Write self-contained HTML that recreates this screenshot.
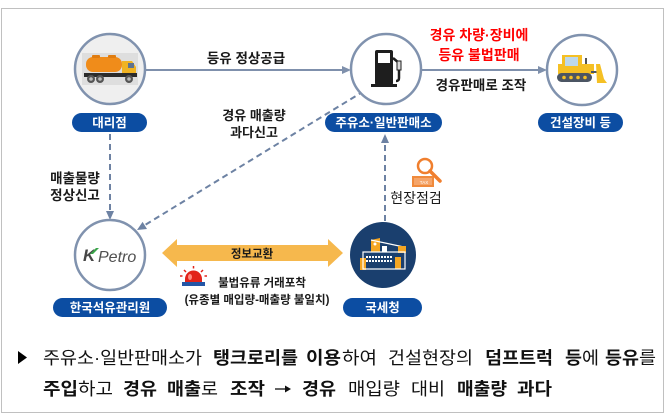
<!DOCTYPE html>
<html><head><meta charset="utf-8"><style>
html,body{margin:0;padding:0;background:#fff;}
svg{display:block;}
text{font-family:"Liberation Sans","Noto Sans CJK KR",sans-serif;}
</style></head><body>
<svg width="670" height="419" viewBox="0 0 670 419" xmlns="http://www.w3.org/2000/svg">
<rect x="1.5" y="8.5" width="662" height="404" fill="#fff" stroke="#808080" stroke-width="1" stroke-dasharray="1,1"/>

<!-- connectors -->
<line x1="146" y1="70" x2="344" y2="70" stroke="#7f90ac" stroke-width="2"/>
<polygon points="351,70 342,66 342,74" fill="#7f90ac"/>
<line x1="421" y1="70" x2="540" y2="70" stroke="#7f90ac" stroke-width="2"/>
<polygon points="547,70 538,66 538,74" fill="#7f90ac"/>

<line x1="110" y1="134" x2="110" y2="212" stroke="#6d82a3" stroke-width="2" stroke-dasharray="6,4"/>
<polygon points="110,220 106,211 114,211" fill="#6d82a3"/>

<line x1="385" y1="221" x2="385" y2="142" stroke="#6d82a3" stroke-width="2" stroke-dasharray="6,4"/>
<polygon points="385,134 381,143 389,143" fill="#6d82a3"/>

<line x1="364" y1="91" x2="145" y2="225" stroke="#6d82a3" stroke-width="2" stroke-dasharray="6,4"/>
<polygon points="137,230 147,229 142.6,221.9" fill="#6d82a3"/>

<!-- circles -->
<circle cx="110" cy="69" r="35" fill="#efefef" stroke="#8092ae" stroke-width="2.5"/>
<circle cx="386" cy="69" r="35" fill="#fff" stroke="#8092ae" stroke-width="2.5"/>
<circle cx="582" cy="70" r="35" fill="#fff" stroke="#8092ae" stroke-width="2.5"/>
<circle cx="110" cy="255" r="35" fill="#fff" stroke="#8092ae" stroke-width="2.5"/>
<circle cx="383" cy="255" r="33" fill="#1a3f6e"/>

<!-- truck -->
<rect x="82" y="53" width="56" height="32" fill="#dedede"/>
<rect x="86" y="57" width="36" height="15" rx="7" fill="#f08c1a"/>
<rect x="92" y="55" width="8" height="3" rx="1" fill="#e07c10"/>
<rect x="108" y="55" width="8" height="3" rx="1" fill="#e07c10"/>
<path d="M122,77 L122,61 L132,61 L136,67 L136,77 Z" fill="#f0b323"/>
<rect x="128" y="63" width="6" height="5" fill="#5f7390"/>
<rect x="84" y="73" width="53" height="4" fill="#2b2b2b"/>
<circle cx="91" cy="79" r="4" fill="#555"/><circle cx="91" cy="79" r="1.8" fill="#bbb"/>
<circle cx="100" cy="79" r="4" fill="#555"/><circle cx="100" cy="79" r="1.8" fill="#bbb"/>
<circle cx="129" cy="79" r="4" fill="#555"/><circle cx="129" cy="79" r="1.8" fill="#bbb"/>

<!-- fuel pump -->
<rect x="375" y="50" width="18" height="35" rx="2" fill="#1e1e1e"/>
<rect x="378" y="53" width="12" height="10" fill="#fff"/>
<rect x="371" y="84" width="26" height="3" fill="#1e1e1e"/>
<path d="M393,58 L399,63 L399,78 Q399,81 396,81" stroke="#1e1e1e" stroke-width="2.5" fill="none"/>
<rect x="397" y="61" width="4" height="9" fill="#dcdcdc" stroke="#1e1e1e" stroke-width="1"/>

<!-- bulldozer -->
<rect x="558" y="64" width="36" height="10" fill="#f5c024"/>
<rect x="562" y="55" width="20" height="12" fill="#f5c024"/>
<rect x="565" y="57" width="13" height="9" fill="#bcd8ec"/>
<rect x="585" y="58" width="2" height="6" fill="#555"/>
<rect x="557" y="73" width="35" height="9" rx="4.5" fill="#4b5563"/>
<circle cx="564" cy="77.5" r="1.8" fill="#f5c024"/>
<circle cx="571" cy="77.5" r="1.8" fill="#f5c024"/>
<circle cx="578" cy="77.5" r="1.8" fill="#f5c024"/>
<circle cx="585" cy="77.5" r="1.8" fill="#f5c024"/>
<line x1="591" y1="72" x2="598" y2="72" stroke="#4b5563" stroke-width="2"/>
<polygon points="596,64 600,64 604,79 607,83 597,83" fill="#f5c024"/>

<!-- K Petro -->
<text x="83" y="261" font-size="17" font-weight="bold" font-style="italic" fill="#464646">K</text>
<polygon points="90,254 96,248 99,248 93,254" fill="#3aa54a"/>
<text x="98" y="262" font-size="16" font-style="italic" fill="#505050">Petro</text>

<!-- NTS building -->
<polygon points="371,240 380,238 380,252 371,252" fill="#f5a623"/>
<path d="M371,240 L404,247 L404,252" stroke="#fff" stroke-width="1.2" fill="none"/>
<rect x="398" y="246" width="8" height="7" fill="#f5a623"/>
<rect x="360" y="258" width="6" height="12" fill="#f5a623"/>
<rect x="395" y="257" width="6" height="12" fill="#f5a623"/>
<rect x="363" y="252" width="42" height="17" fill="none" stroke="#fff" stroke-width="1.2"/>
<line x1="366" y1="257" x2="392" y2="257" stroke="#fff" stroke-width="2" stroke-dasharray="2,1"/>
<line x1="366" y1="261" x2="392" y2="261" stroke="#fff" stroke-width="2" stroke-dasharray="2,1"/>
<rect x="382" y="246" width="5" height="6" fill="#fff"/>
<circle cx="375" cy="244" r="1.5" fill="#fff"/>

<!-- pills -->
<rect x="72" y="113" width="75" height="19" rx="9.5" fill="#0c4da2"/>
<text x="109.5" y="127" font-size="12.5" font-weight="bold" fill="#fff" text-anchor="middle">대리점</text>
<rect x="325" y="113" width="117" height="19" rx="9.5" fill="#0c4da2"/>
<text x="383.5" y="127" font-size="12.5" font-weight="bold" fill="#fff" text-anchor="middle">주유소·일반판매소</text>
<rect x="538" y="113" width="85" height="19" rx="9.5" fill="#0c4da2"/>
<text x="580.5" y="127" font-size="12.5" font-weight="bold" fill="#fff" text-anchor="middle">건설장비 등</text>
<rect x="53" y="298" width="114" height="19" rx="9.5" fill="#0c4da2"/>
<text x="110" y="312" font-size="12.5" font-weight="bold" fill="#fff" text-anchor="middle">한국석유관리원</text>
<rect x="343" y="298" width="79" height="19" rx="9.5" fill="#0c4da2"/>
<text x="382.5" y="312" font-size="12.5" font-weight="bold" fill="#fff" text-anchor="middle">국세청</text>

<!-- labels -->
<text x="246" y="63" font-size="13.5" font-weight="bold" fill="#1a1a1a" text-anchor="middle">등유 정상공급</text>
<text x="479" y="40" font-size="14" font-weight="bold" fill="#ff0000" text-anchor="middle">경유 차량·장비에</text>
<text x="479" y="60" font-size="14" font-weight="bold" fill="#ff0000" text-anchor="middle">등유 불법판매</text>
<text x="481" y="90" font-size="13.5" font-weight="bold" fill="#1a1a1a" text-anchor="middle">경유판매로 조작</text>
<text x="254" y="120" font-size="13" font-weight="bold" fill="#1a1a1a" text-anchor="middle">경유 매출량</text>
<text x="254" y="137" font-size="13" font-weight="bold" fill="#1a1a1a" text-anchor="middle">과다신고</text>
<text x="75" y="183" font-size="13.5" font-weight="bold" fill="#1a1a1a" text-anchor="middle">매출물량</text>
<text x="75" y="200" font-size="13.5" font-weight="bold" fill="#1a1a1a" text-anchor="middle">정상신고</text>
<text x="416" y="203" font-size="14" fill="#1a1a1a" text-anchor="middle">현장점검</text>

<!-- magnifier / TAX -->
<rect x="412" y="176" width="22" height="11" fill="#f08a3c"/>
<rect x="414" y="178" width="18" height="7" fill="#f5a56a"/>
<text x="424" y="184" font-size="4.5" fill="#fff" text-anchor="middle">TAX</text>
<circle cx="425" cy="166" r="7" fill="#fff" stroke="#f07f2e" stroke-width="2.5"/>
<line x1="430" y1="171" x2="440" y2="181" stroke="#f07f2e" stroke-width="3.5" stroke-linecap="round"/>

<!-- info exchange arrow -->
<polygon points="162,253 177,239 177,245 328,245 328,239 343,253 328,267 328,261 177,261 177,267" fill="#f6b84d"/>
<text x="252" y="257.5" font-size="11.5" font-weight="bold" fill="#1a1a1a" text-anchor="middle">정보교환</text>

<!-- siren -->
<path d="M185,282 L185,279 A8.5,8.5 0 0 1 202,279 L202,282 Z" fill="#e2231a"/>
<ellipse cx="190" cy="277" rx="2" ry="3" fill="#ff8a80"/>
<rect x="182" y="282" width="23" height="4" fill="#2456a6"/>
<line x1="193.5" y1="266" x2="193.5" y2="268.5" stroke="#e2231a" stroke-width="1.5"/>
<line x1="184" y1="270" x2="186" y2="272" stroke="#e2231a" stroke-width="1.5"/>
<line x1="203" y1="270" x2="201" y2="272" stroke="#e2231a" stroke-width="1.5"/>
<line x1="180" y1="276" x2="182.5" y2="276" stroke="#e2231a" stroke-width="1.5"/>
<line x1="207" y1="276" x2="204.5" y2="276" stroke="#e2231a" stroke-width="1.5"/>
<text x="262" y="286.5" font-size="11.5" font-weight="bold" fill="#1a1a1a" text-anchor="middle">불법유류 거래포착</text>
<text x="257" y="303.5" font-size="11.5" font-weight="bold" fill="#1a1a1a" text-anchor="middle">(유종별 매입량-매출량 불일치)</text>

<!-- bottom text -->
<polygon points="18,351 27,357.5 18,364" fill="#000"/>
<g font-size="17.5" fill="#111">
<text x="43" y="364" textLength="159" lengthAdjust="spacingAndGlyphs">주유소·일반판매소가</text>
<text x="213" y="364" textLength="85" lengthAdjust="spacingAndGlyphs" font-weight="bold">탱크로리를</text>
<text x="306" y="364" textLength="35" lengthAdjust="spacingAndGlyphs" font-weight="bold">이용</text>
<text x="342" y="364" textLength="35" lengthAdjust="spacingAndGlyphs">하여</text>
<text x="388" y="364" textLength="85" lengthAdjust="spacingAndGlyphs">건설현장의</text>
<text x="485" y="364" textLength="68" lengthAdjust="spacingAndGlyphs" font-weight="bold">덤프트럭</text>
<text x="565" y="364" textLength="17" lengthAdjust="spacingAndGlyphs" font-weight="bold">등</text>
<text x="582" y="364" textLength="17" lengthAdjust="spacingAndGlyphs">에</text>
<text x="605" y="364" textLength="34" lengthAdjust="spacingAndGlyphs" font-weight="bold">등유</text>
<text x="639" y="364" textLength="17" lengthAdjust="spacingAndGlyphs">를</text>

<text x="43" y="395" textLength="35" lengthAdjust="spacingAndGlyphs" font-weight="bold">주입</text>
<text x="78" y="395" textLength="35" lengthAdjust="spacingAndGlyphs">하고</text>
<text x="123" y="395" textLength="34" lengthAdjust="spacingAndGlyphs" font-weight="bold">경유</text>
<text x="167" y="395" textLength="34" lengthAdjust="spacingAndGlyphs" font-weight="bold">매출</text>
<text x="201" y="395" textLength="17" lengthAdjust="spacingAndGlyphs">로</text>
<text x="230" y="395" textLength="35" lengthAdjust="spacingAndGlyphs" font-weight="bold">조작</text>
<line x1="275" y1="389" x2="287" y2="389" stroke="#111" stroke-width="1.3"/>
<polygon points="291,389 285,385.5 285,392.5" fill="#111"/>
<text x="302" y="395" textLength="34" lengthAdjust="spacingAndGlyphs" font-weight="bold">경유</text>
<text x="348" y="395" textLength="52" lengthAdjust="spacingAndGlyphs">매입량</text>
<text x="411" y="395" textLength="34" lengthAdjust="spacingAndGlyphs">대비</text>
<text x="457" y="395" textLength="50" lengthAdjust="spacingAndGlyphs" font-weight="bold">매출량</text>
<text x="517" y="395" textLength="35" lengthAdjust="spacingAndGlyphs" font-weight="bold">과다</text>
</g>
</svg>
</body></html>
